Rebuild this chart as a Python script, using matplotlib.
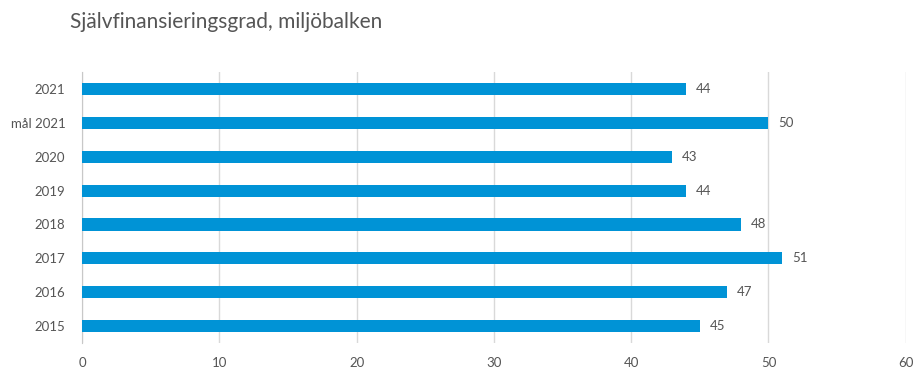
import matplotlib.pyplot as plt

categories = ['2021', 'mål 2021', '2020', '2019', '2018', '2017', '2016', '2015']
values = [44, 50, 43, 44, 48, 51, 47, 45]
title = 'Självfinansieringsgrad, miljöbalken'

plt.rcParams['font.family'] = ['Lato', 'DejaVu Sans']

fig = plt.figure(figsize=(9.14, 3.7), dpi=100)
ax = fig.add_axes([0.0897, 0.073, 0.9013, 0.732])

pos = list(range(len(categories)))[::-1]
ax.barh(pos, values, height=0.36, color='#0093D6', zorder=3)
for p, v in zip(pos, values):
    ax.text(v + 0.7, p, str(v), va='center', ha='left', fontsize=9.5, color='#555555')

ax.set_xlim(0, 60)
ax.set_ylim(-0.5, 7.5)
ax.set_xticks(range(0, 61, 10))
ax.set_yticks(pos)
ax.set_yticklabels(categories)
ax.xaxis.grid(True, color='#d9d9d9', linewidth=1, zorder=0)
for s in ['top', 'right', 'bottom']:
    ax.spines[s].set_visible(False)
ax.spines['left'].set_color('#c8c8c8')
ax.tick_params(axis='both', length=0, labelsize=9.5, colors='#555555')
ax.tick_params(axis='x', pad=10)
ax.tick_params(axis='y', pad=12)

fig.text(0.077, 0.94, title, fontsize=15, color='#555555', va='center', ha='left')

fig.savefig('out.png', dpi=100)
